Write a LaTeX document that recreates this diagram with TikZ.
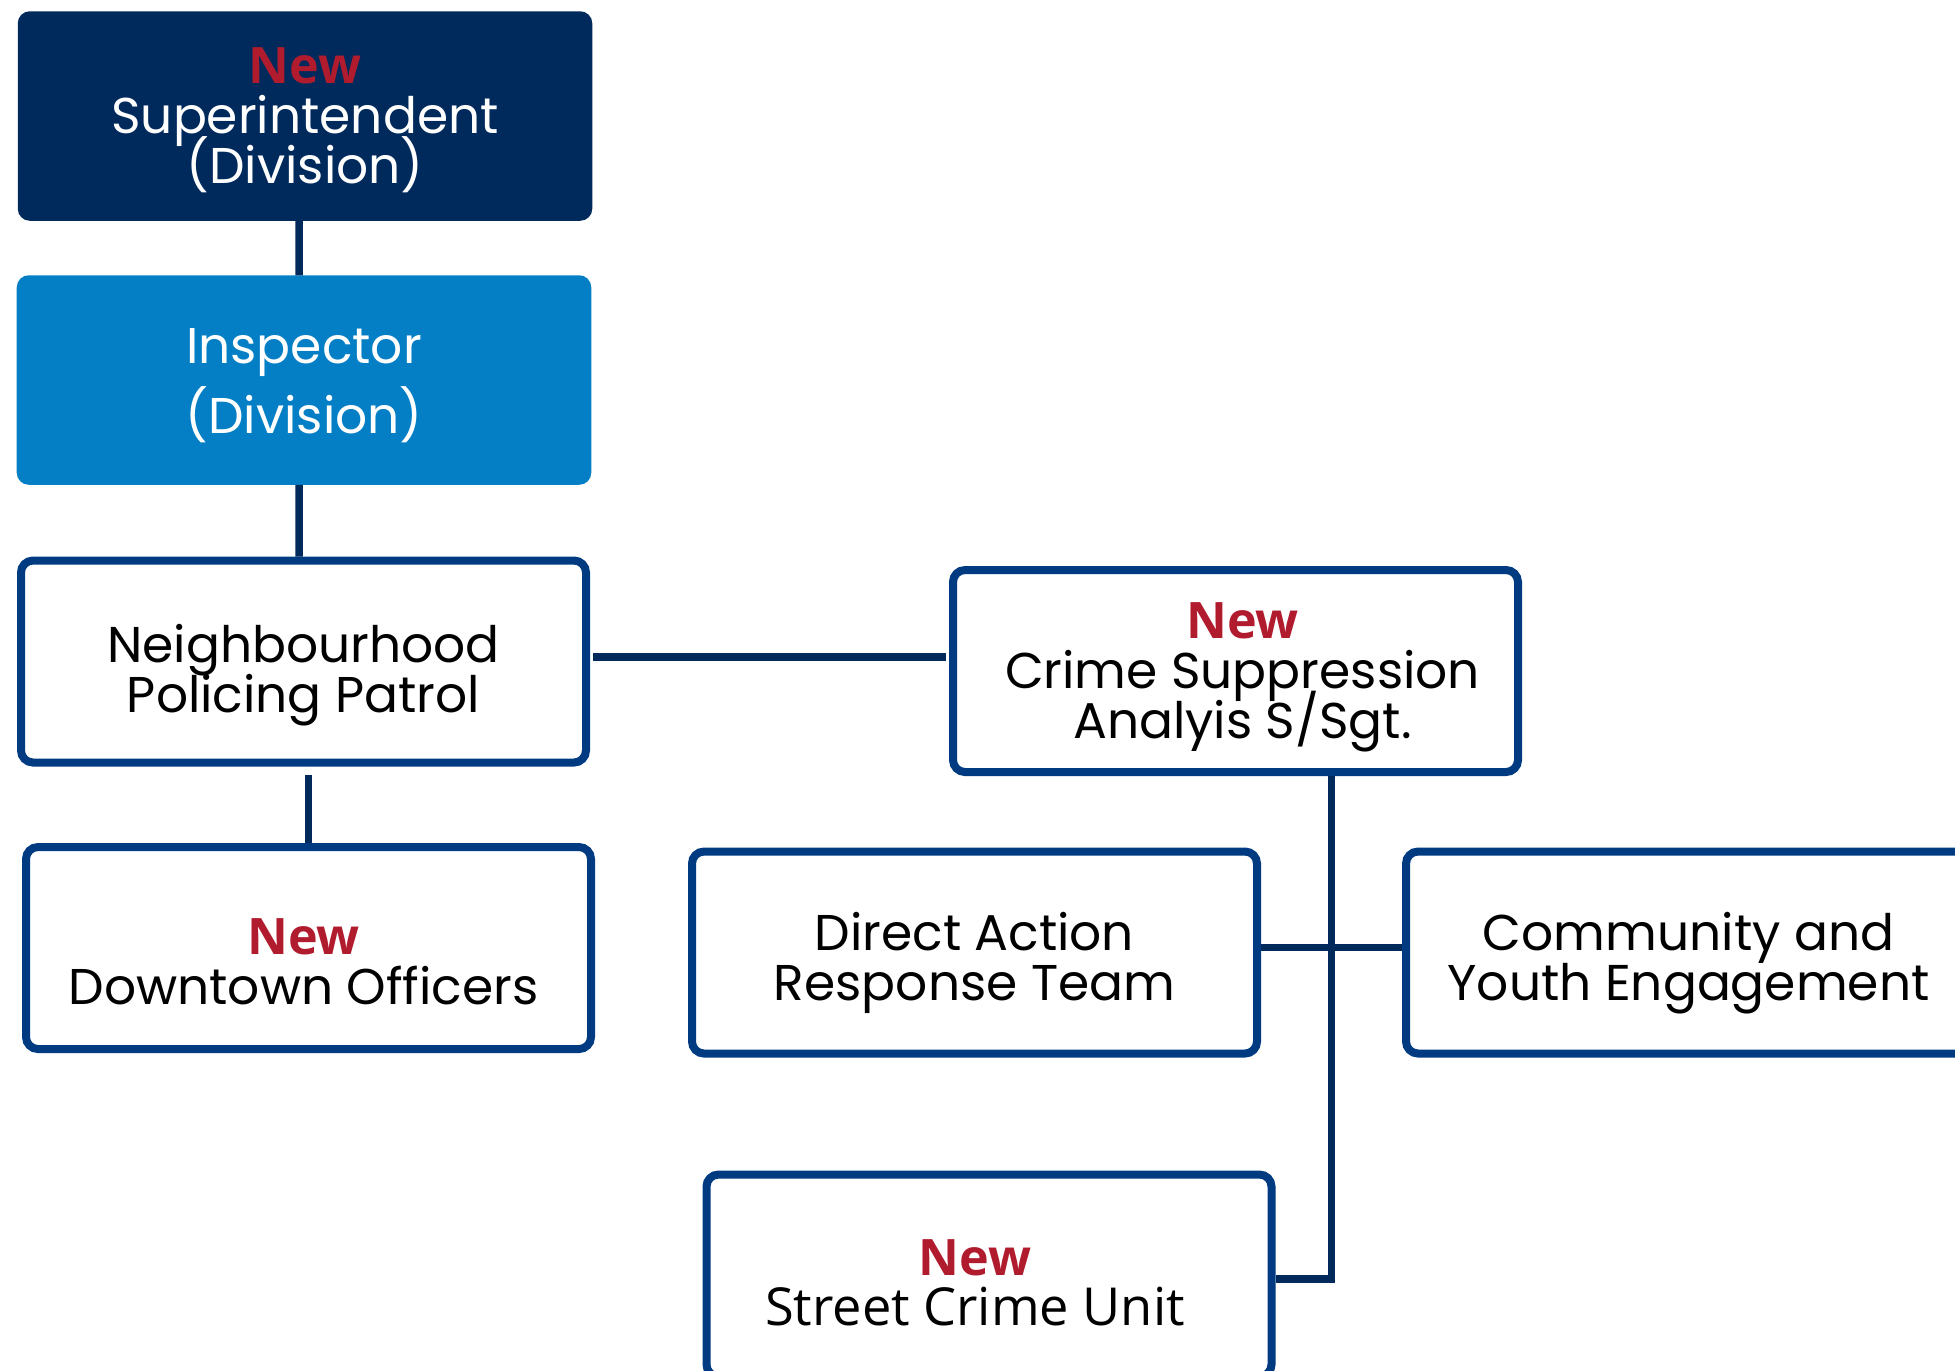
\documentclass[tikz,border=0pt]{standalone}
\usepackage{fontspec}
\setmainfont{Poppins}
\newfontfamily\tagfont{Open Sans}
\newfontfamily\unitfont{Open Sans}
\usetikzlibrary{positioning}

\definecolor{navy}{HTML}{002A5C}
\definecolor{skyblue}{HTML}{047FC6}
\definecolor{rimblue}{HTML}{003B82}
\definecolor{newred}{HTML}{B01C2E}

\newcommand{\newtag}{{\tagfont\bfseries\color{newred}New}}

\begin{document}
\begin{tikzpicture} [
						y=-1cm,
						unit/.style={rectangle, rounded corners=0.12cm, draw=rimblue, line width=0.08cm,
							fill=white, minimum width=5.65cm, minimum height=2.02cm, inner sep=0pt},
						head/.style={rectangle, rounded corners=0.12cm, fill=navy,
							minimum width=5.745cm, minimum height=2.095cm, inner sep=0pt, outer sep=0pt},
						caption/.style={align=center, inner sep=0pt,
							font={\fontsize{14.3pt}{14.2pt}\selectfont\lineskiplimit=-30pt}},
						link/.style={draw=navy, line width=0.075cm}
					]

\useasboundingbox (0,0) rectangle (19.55,13.70);

% chain of command
\node (super) [head, label={[caption, text=white, yshift=-0.04cm]center:{\newtag\\Superintendent\\(Division)}}]
	at (3.05,1.16) {};
\node (insp)  [head, fill=skyblue, label={[caption, text=white, yshift=-0.055cm,
	font={\fontsize{14.3pt}{19.9pt}\selectfont\lineskiplimit=-30pt}]center:{Inspector\\(Division)}}]
	at (3.04,3.80) {};
\node (neigh) [unit, label={[caption, yshift=-0.135cm]center:{Neighbourhood\\Policing Patrol}}]
	at (3.035,6.615) {};
\node (down)  [unit, label={[caption, xshift=-0.05cm, yshift=-0.135cm]center:{\newtag\\Downtown Officers}}]
	at (3.085,9.48) {};

% crime suppression branch
\node (crime)  [unit, label={[caption, xshift=0.07cm, yshift=-0.065cm]center:{\newtag\\Crime Suppression\\Analyis S/Sgt.}}]
	at (12.355,6.71) {};
\node (direct) [unit, label={[caption, yshift=-0.105cm]center:{Direct Action\\Response Team}}]
	at (9.745,9.525) {};
\node (comm)   [unit, label={[caption, yshift=-0.105cm]center:{Community and\\Youth Engagement}}]
	at (16.885,9.525) {};
\node (street) [unit, label={[caption, xshift=-0.14cm, yshift=-0.07cm]center:{\newtag\\{\unitfont\fontsize{14.9pt}{14.2pt}\selectfont Street Crime Unit}}}]
	at (9.89,12.755) {};

\draw[link] ([xshift=-0.06cm]super.south) -- ([xshift=-0.05cm]insp.north);
\draw[link] ([xshift=-0.05cm]insp.south) -- ([xshift=-0.045cm]neigh.north);
\draw[link] ([yshift=-0.085cm]neigh.south -| down.north) -- (down.north);
\draw[link] ([xshift=0.03cm, yshift=0.045cm]neigh.east) -- ([xshift=-0.03cm, yshift=0.14cm]crime.west);
\draw[link] ([yshift=0.05cm]direct.east) -- ([yshift=0.05cm]comm.west);
\draw[link] ([xshift=0.96cm]crime.south) |- ([yshift=-0.035cm]street.east);

\end{tikzpicture}
\end{document}
